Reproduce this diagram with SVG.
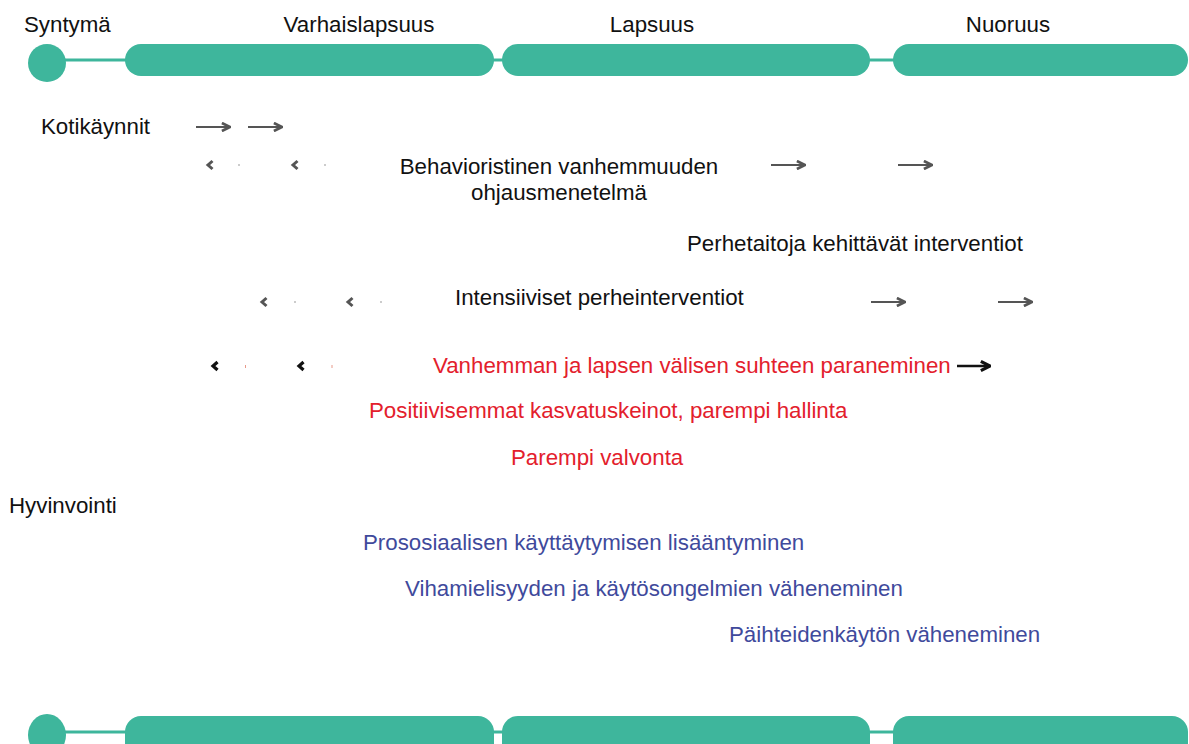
<svg xmlns="http://www.w3.org/2000/svg" width="1189" height="744" viewBox="0 0 1189 744">
  <style>
    text { font-family: "Liberation Sans", Arial, sans-serif; font-size: 22.3px; fill: #111; }
    .mid { text-anchor: middle; }
    .red { fill: #e3202c; }
    .blue { fill: #3f4a9c; }
    .bar { fill: #3eb69c; }
    .link { stroke: #3eb69c; stroke-width: 3; }
    .arr { stroke: #555; stroke-width: 2.2; fill: none; }
    .arrk { stroke: #111; stroke-width: 2.6; fill: none; }
    .chev { stroke: #555; stroke-width: 3; fill: none; }
    .chevk { stroke: #111; stroke-width: 3.2; fill: none; }
    .dot { fill: #999; }
    .dotr { fill: #e89a8a; }
  </style>
  <defs>
    <marker id="head" viewBox="0 0 10 10" refX="9" refY="5" markerWidth="4.6" markerHeight="4.6" orient="auto" markerUnits="strokeWidth">
      <path d="M1,1 L9,5 L1,9" fill="none" stroke="#555" stroke-width="2.6"/>
    </marker>
    <marker id="headk" viewBox="0 0 10 10" refX="9" refY="5" markerWidth="4.4" markerHeight="4.4" orient="auto" markerUnits="strokeWidth">
      <path d="M1,1 L9,5 L1,9" fill="none" stroke="#111" stroke-width="2.8"/>
    </marker>
  </defs>

  <!-- top timeline -->
  <g id="timeline-top">
    <line class="link" x1="60" y1="60" x2="130" y2="60"/>
    <line class="link" x1="490" y1="60" x2="506" y2="60"/>
    <line class="link" x1="866" y1="60" x2="897" y2="60"/>
    <circle class="bar" cx="47" cy="63" r="19"/>
    <rect class="bar" x="125" y="44" width="369" height="32" rx="16"/>
    <rect class="bar" x="502" y="44" width="368" height="32" rx="16"/>
    <rect class="bar" x="893" y="44" width="295" height="32" rx="16"/>
    <text x="24" y="32">Syntymä</text>
    <text class="mid" x="359" y="32">Varhaislapsuus</text>
    <text class="mid" x="652" y="32">Lapsuus</text>
    <text class="mid" x="1008" y="32">Nuoruus</text>
  </g>

  <!-- bottom timeline -->
  <g id="timeline-bottom">
    <line class="link" x1="60" y1="732" x2="130" y2="732"/>
    <line class="link" x1="490" y1="732" x2="506" y2="732"/>
    <line class="link" x1="866" y1="732" x2="897" y2="732"/>
    <ellipse class="bar" cx="47" cy="735" rx="19" ry="21"/>
    <rect class="bar" x="125" y="716" width="369" height="60" rx="16"/>
    <rect class="bar" x="502" y="716" width="368" height="60" rx="16"/>
    <rect class="bar" x="893" y="716" width="295" height="60" rx="16"/>
  </g>

  <!-- interventions -->
  <g id="kotikaynnit">
    <text x="41" y="134">Kotikäynnit</text>
  </g>
  <g id="behavioristinen">
    <text class="mid" x="559" y="174">Behavioristinen vanhemmuuden</text>
    <text class="mid" x="559" y="200">ohjausmenetelmä</text>
  </g>
  <g id="perhetaitoja">
    <text x="687" y="251">Perhetaitoja kehittävät interventiot</text>
  </g>
  <g id="intensiiviset">
    <text x="455" y="305">Intensiiviset perheinterventiot</text>
  </g>

  <!-- outcomes: parenting -->
  <g id="suhde">
    <text class="red" x="433" y="373">Vanhemman ja lapsen välisen suhteen paraneminen</text>
  </g>
  <g id="kasvatuskeinot">
    <text class="red" x="369" y="418">Positiivisemmat kasvatuskeinot, parempi hallinta</text>
  </g>
  <g id="valvonta">
    <text class="red" x="511" y="465">Parempi valvonta</text>
  </g>

  <!-- outcomes: wellbeing -->
  <g id="hyvinvointi">
    <text x="9" y="513">Hyvinvointi</text>
  </g>
  <g id="prososiaalinen">
    <text class="blue" x="363" y="550">Prososiaalisen käyttäytymisen lisääntyminen</text>
  </g>
  <g id="vihamielisyys">
    <text class="blue" x="405" y="596">Vihamielisyyden ja käytösongelmien väheneminen</text>
  </g>
  <g id="paihteet">
    <text class="blue" x="729" y="642">Päihteidenkäytön väheneminen</text>
  </g>

  <!-- connectors -->
  <g id="connectors">
    <line class="arr" x1="196" y1="127" x2="230" y2="127" marker-end="url(#head)"/>
    <line class="arr" x1="248" y1="127" x2="282" y2="127" marker-end="url(#head)"/>

    <path class="chev" d="M212.5,161 L208,165 L212.5,169"/>
    <rect class="dot" x="238.5" y="164" width="1" height="2"/>
    <path class="chev" d="M297.5,161 L293,165 L297.5,169"/>
    <rect class="dot" x="324.5" y="164" width="1" height="2"/>
    <line class="arr" x1="771" y1="165" x2="805" y2="165" marker-end="url(#head)"/>
    <line class="arr" x1="898" y1="165" x2="932" y2="165" marker-end="url(#head)"/>

    <path class="chev" d="M266.5,298 L262,302 L266.5,306"/>
    <rect class="dot" x="294.5" y="301" width="1" height="2"/>
    <path class="chev" d="M352.5,298 L348,302 L352.5,306"/>
    <rect class="dot" x="380.5" y="301" width="1" height="2"/>
    <line class="arr" x1="871" y1="302" x2="905" y2="302" marker-end="url(#head)"/>
    <line class="arr" x1="998" y1="302" x2="1032" y2="302" marker-end="url(#head)"/>

    <path class="chevk" d="M217.5,362 L213,366 L217.5,370"/>
    <rect class="dotr" x="245" y="365" width="1" height="3"/>
    <path class="chevk" d="M303.5,362 L299,366 L303.5,370"/>
    <rect class="dotr" x="331.5" y="365" width="1" height="3"/>
    <line class="arrk" x1="957" y1="366" x2="990" y2="366" marker-end="url(#headk)"/>
  </g>
</svg>
